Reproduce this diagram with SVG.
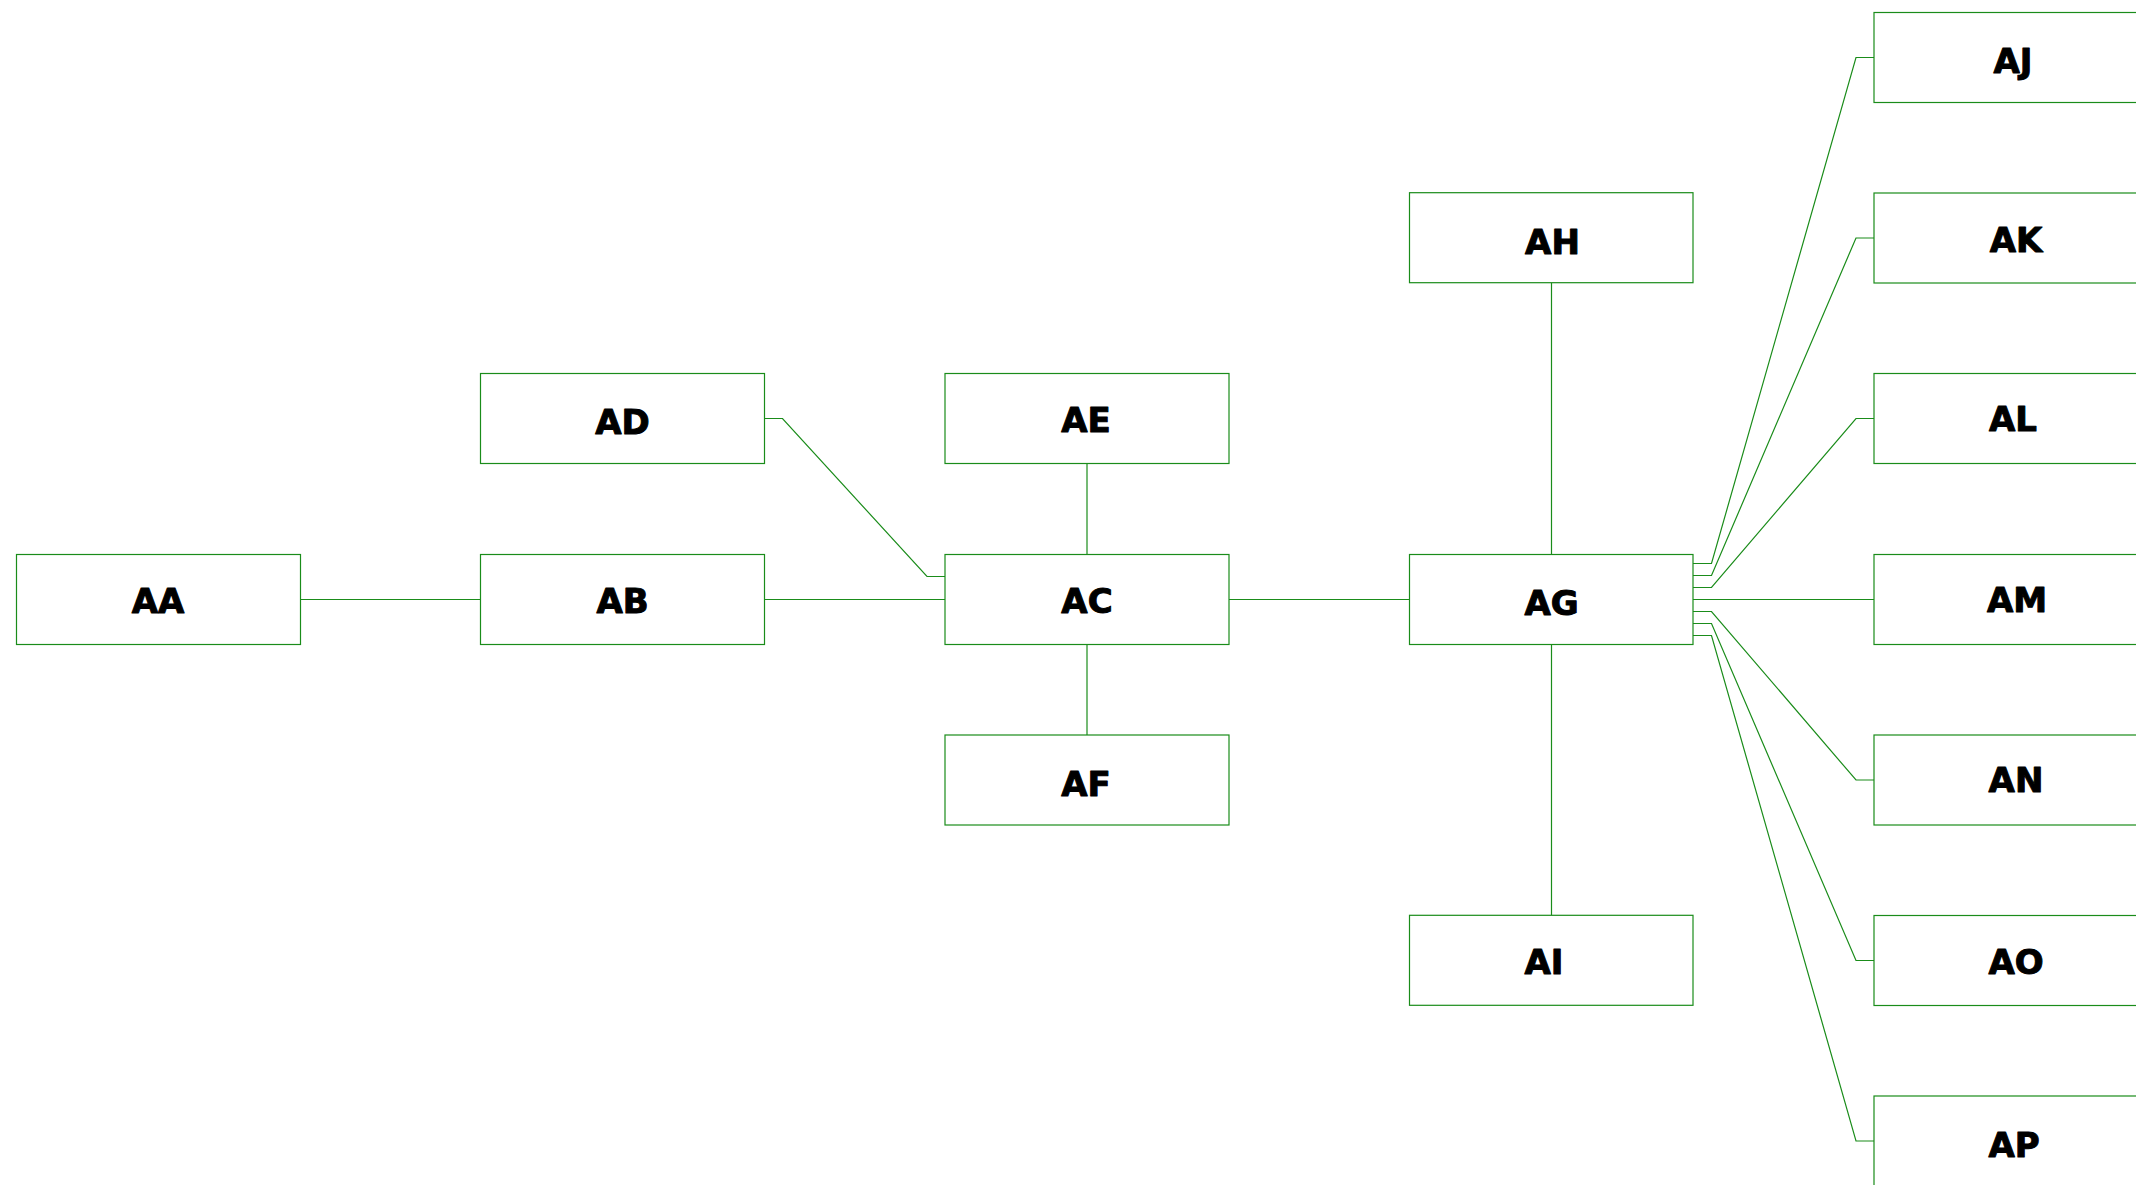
<svg xmlns="http://www.w3.org/2000/svg" width="2136" height="1185" viewBox="0 0 2136 1185">
<style>
.box{fill:#ffffff;stroke:#1a8c1a;stroke-width:1.2}
.lbl{font-family:"DejaVu Sans",sans-serif;font-weight:bold;font-size:34px;fill:#000000;stroke:#000000;stroke-width:1;stroke-linejoin:round;text-anchor:middle}
.edge{fill:none;stroke:#1a8c1a;stroke-width:1.2}
</style>
<rect width="2136" height="1185" fill="#ffffff"/>
<g id="connectors">
<path class="edge" d="M300.5,599.5 H480.5"/>
<path class="edge" d="M764.5,599.5 H945"/>
<path class="edge" d="M764.5,418.5 H782.5 L927,576.5 H945"/>
<path class="edge" d="M1087,463.5 V554"/>
<path class="edge" d="M1087,644 V735"/>
<path class="edge" d="M1229,599.5 H1409.5"/>
<path class="edge" d="M1551.5,282.7 V554"/>
<path class="edge" d="M1551.5,644 V915.3"/>
<path class="edge" d="M1693,563.5 H1711.5 L1856,57.5 H1874"/>
<path class="edge" d="M1693,575.5 H1711.5 L1856,238 H1874"/>
<path class="edge" d="M1693,587.5 H1711.5 L1856,418.5 H1874"/>
<path class="edge" d="M1693,599.5 H1874"/>
<path class="edge" d="M1693,611.5 H1711.5 L1856,780 H1874"/>
<path class="edge" d="M1693,623.5 H1711.5 L1856,960.5 H1874"/>
<path class="edge" d="M1693,635.5 H1711.5 L1856,1141 H1874"/>
</g>
<g id="AA"><rect class="box" x="16.5" y="554.5" width="284" height="90"/><text class="lbl" x="158" y="612.5">AA</text></g>
<g id="AB"><rect class="box" x="480.5" y="554.5" width="284" height="90"/><text class="lbl" x="622.5" y="613">AB</text></g>
<g id="AD"><rect class="box" x="480.5" y="373.5" width="284" height="90"/><text class="lbl" x="622.5" y="433.5">AD</text></g>
<g id="AE"><rect class="box" x="945" y="373.5" width="284" height="90"/><text class="lbl" x="1086" y="432">AE</text></g>
<g id="AC"><rect class="box" x="945" y="554.5" width="284" height="90"/><text class="lbl" x="1087" y="613">AC</text></g>
<g id="AF"><rect class="box" x="945" y="735" width="284" height="90"/><text class="lbl" x="1086" y="795.5">AF</text></g>
<g id="AH"><rect class="box" x="1409.5" y="192.7" width="283.5" height="90"/><text class="lbl" x="1552.5" y="254">AH</text></g>
<g id="AG"><rect class="box" x="1409.5" y="554.5" width="283.5" height="90"/><text class="lbl" x="1551.5" y="614.5">AG</text></g>
<g id="AI"><rect class="box" x="1409.5" y="915.3" width="283.5" height="90"/><text class="lbl" x="1544" y="974">AI</text></g>
<g id="AJ"><rect class="box" x="1874" y="12.5" width="284" height="90"/><text class="lbl" x="2013" y="73.3">AJ</text></g>
<g id="AK"><rect class="box" x="1874" y="193" width="284" height="90"/><text class="lbl" x="2016" y="252">AK</text></g>
<g id="AL"><rect class="box" x="1874" y="373.5" width="284" height="90"/><text class="lbl" x="2013" y="430.5">AL</text></g>
<g id="AM"><rect class="box" x="1874" y="554.5" width="284" height="90"/><text class="lbl" x="2017" y="611.5">AM</text></g>
<g id="AN"><rect class="box" x="1874" y="735" width="284" height="90"/><text class="lbl" x="2016" y="791.5">AN</text></g>
<g id="AO"><rect class="box" x="1874" y="915.5" width="284" height="90"/><text class="lbl" x="2016" y="974">AO</text></g>
<g id="AP"><rect class="box" x="1874" y="1096" width="284" height="90"/><text class="lbl" x="2014" y="1157.3">AP</text></g>
</svg>
